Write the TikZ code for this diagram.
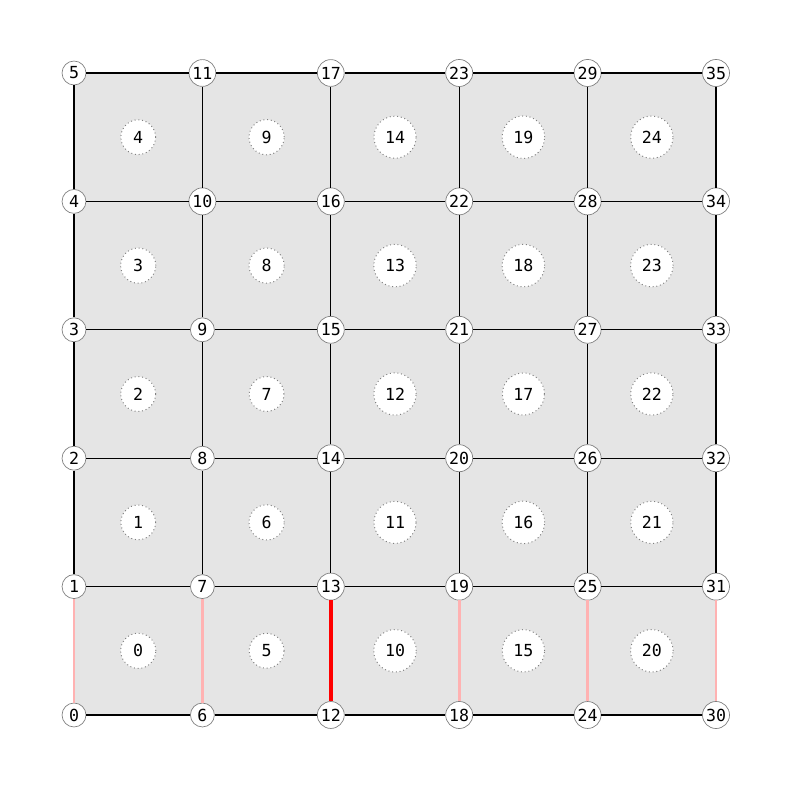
\documentclass[tikz,border=0pt]{standalone}
\usepackage{fontspec}
\setmonofont{DejaVu Sans Mono}
\definecolor{cellgray}{RGB}{229,229,229}
\definecolor{ringgray}{RGB}{128,128,128}
\definecolor{softred}{RGB}{255,178,178}
\tikzset{
  vert/.style={circle,draw=ringgray,fill=white,line width=0.5pt,
    inner sep=0.9pt,minimum size=17.3pt,font=\ttfamily\fontsize{12}{14}\selectfont},
  cellmark/.style={circle,draw=ringgray,fill=white,line width=0.7pt,
    dotted,inner sep=4.9pt,minimum size=23pt,font=\ttfamily\fontsize{12}{14}\selectfont},
  link/.style={draw=black,line width=1pt},
  faint/.style={draw=softred,line width=2pt},
  cut/.style={draw=red,line width=3pt},
}

\begin{document}
\begin{tikzpicture}[x=1in,y=1in]
  \useasboundingbox (0,0) rectangle (7.9,7.9);
  % cells
  \foreach \i in {0,...,4}
    \foreach \j in {0,...,4}
      \fill[cellgray] (0.74+1.284*\i,0.75+1.284*\j) rectangle ++(1.284,1.284);
  % vertices
  \foreach \i in {0,...,5}
    \foreach \j in {0,...,5} {
      \pgfmathtruncatemacro{\k}{6*\i+\j}
      \node[vert] (v\k) at (0.74+1.284*\i,0.75+1.284*\j) {\k};
    }
  % horizontal edges
  \foreach \i in {0,...,4}
    \foreach \j in {0,...,5} {
      \pgfmathtruncatemacro{\a}{6*\i+\j}
      \pgfmathtruncatemacro{\b}{6*\i+\j+6}
      \draw[link] (v\a) -- (v\b);
    }
  % vertical edges
  \foreach \i in {0,...,5}
    \foreach \j in {1,...,4} {
      \pgfmathtruncatemacro{\a}{6*\i+\j}
      \pgfmathtruncatemacro{\b}{6*\i+\j+1}
      \draw[link] (v\a) -- (v\b);
    }
  \foreach \i in {0,1,3,4,5} {
    \pgfmathtruncatemacro{\a}{6*\i}
    \pgfmathtruncatemacro{\b}{6*\i+1}
    \draw[faint] (v\a) -- (v\b);
  }
  \draw[cut] (v12) -- (v13);
  % cell labels
  \foreach \i in {0,...,4}
    \foreach \j in {0,...,4} {
      \pgfmathtruncatemacro{\c}{5*\i+\j}
      \node[cellmark] (c\c) at (1.382+1.284*\i,1.392+1.284*\j) {\c};
    }
\end{tikzpicture}
\end{document}
